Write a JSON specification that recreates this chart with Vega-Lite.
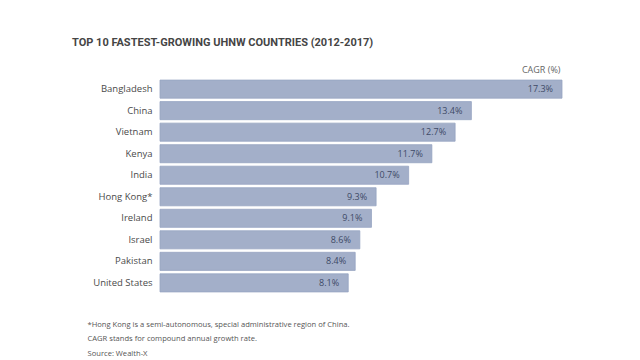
{
  "$schema": "https://vega.github.io/schema/vega-lite/v6.json",
  "autosize": {"type": "none"},
  "width": 402,
  "height": 214,
  "padding": {"left": 160, "top": 79, "right": 78, "bottom": 67},
  "background": "#ffffff",
  "config": {"view": {"stroke": null}, "font": "Open Sans"},
  "title": {
    "text": "TOP 10 FASTEST-GROWING UHNW COUNTRIES (2012-2017)",
    "anchor": "start",
    "frame": "group",
    "dx": -88,
    "offset": 17,
    "fontSize": 11,
    "fontWeight": "bold",
    "color": "#454545",
    "font": "Roboto"
  },
  "data": {
    "values": [
      {"country": "Bangladesh", "cagr": 17.3, "label": "17.3%"},
      {"country": "China", "cagr": 13.4, "label": "13.4%"},
      {"country": "Vietnam", "cagr": 12.7, "label": "12.7%"},
      {"country": "Kenya", "cagr": 11.7, "label": "11.7%"},
      {"country": "India", "cagr": 10.7, "label": "10.7%"},
      {"country": "Hong Kong*", "cagr": 9.3, "label": "9.3%"},
      {"country": "Ireland", "cagr": 9.1, "label": "9.1%"},
      {"country": "Israel", "cagr": 8.6, "label": "8.6%"},
      {"country": "Pakistan", "cagr": 8.4, "label": "8.4%"},
      {"country": "United States", "cagr": 8.1, "label": "8.1%"}
    ]
  },
  "encoding": {
    "y": {
      "field": "country",
      "type": "nominal",
      "sort": null,
      "scale": {"paddingInner": 0.16, "paddingOuter": 0.05},
      "axis": {
        "title": null,
        "domain": false,
        "ticks": false,
        "labelPadding": 8,
        "labelFontSize": 9.5,
        "labelColor": "#4a4a4a",
        "labelFont": "Open Sans"
      }
    }
  },
  "layer": [
    {
      "mark": {"type": "bar", "color": "#a3afc9", "stroke": "#97a4c2", "strokeWidth": 0.8},
      "encoding": {
        "x": {
          "field": "cagr",
          "type": "quantitative",
          "scale": {"domain": [0, 17.3], "nice": false},
          "axis": {
            "orient": "bottom",
            "domain": false,
            "ticks": false,
            "labels": false,
            "grid": false,
            "title": [
              "*Hong Kong is a semi-autonomous, special administrative region of China.",
              "CAGR stands for compound annual growth rate.",
              "Source: Wealth-X"
            ],
            "titleAnchor": "start",
            "titleAlign": "left",
            "titleX": -73,
            "titleY": 27,
            "titleFontSize": 7.6,
            "titleFontWeight": "normal",
            "titleColor": "#555555",
            "titleLineHeight": 14.5,
            "titleFont": "Open Sans"
          }
        }
      }
    },
    {
      "mark": {"type": "text", "align": "right", "dx": -9, "fontSize": 9, "color": "#3e4a66", "font": "Open Sans"},
      "encoding": {
        "x": {
          "field": "cagr",
          "type": "quantitative",
          "scale": {"domain": [0, 17.3], "nice": false},
          "axis": {
            "orient": "top",
            "domain": false,
            "ticks": false,
            "labels": false,
            "grid": false,
            "title": "CAGR (%)",
            "titleAnchor": "end",
            "titleAlign": "right",
            "titleX": 400,
            "titleY": -5,
            "titleFontSize": 9,
            "titleFontWeight": "normal",
            "titleColor": "#666666",
            "titleFont": "Open Sans"
          }
        },
        "text": {"field": "label"}
      }
    }
  ],
  "resolve": {"axis": {"x": "independent"}}
}
